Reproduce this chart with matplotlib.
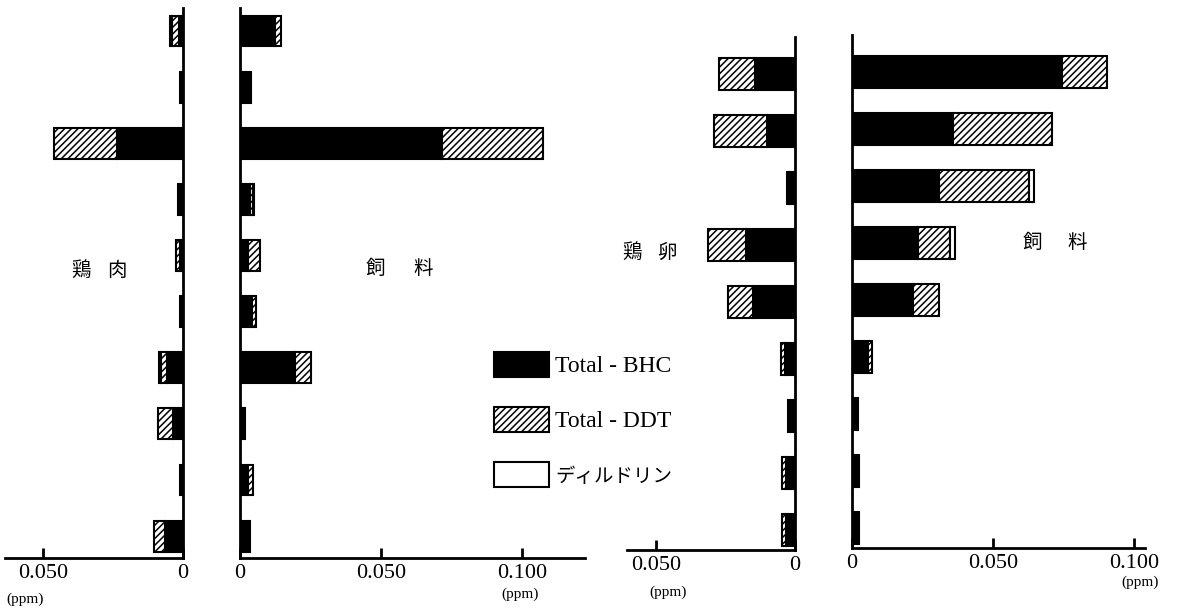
import matplotlib.pyplot as plt
from matplotlib.patches import Patch

plt.rcParams['font.family'] = ['Liberation Serif', 'Noto Sans CJK JP']
plt.rcParams['hatch.linewidth'] = 1.1

# 鶏肉 / 飼料 (10 samples), 鶏卵 / 飼料 (9 samples), ppm
meat_bhc = [0.0015, 0.0010, 0.0236, 0.0018, 0.0010, 0.0010, 0.0057, 0.0035, 0.0010, 0.0065]
meat_ddt = [0.0025, 0, 0.0224, 0, 0.0015, 0, 0.0022, 0.0055, 0, 0.0040]
meat_diel = [0.0005, 0, 0, 0, 0, 0, 0.0006, 0, 0, 0]

feed1_bhc = [0.0124, 0.0038, 0.0715, 0.0035, 0.0030, 0.0043, 0.0195, 0.0018, 0.0027, 0.0028]
feed1_ddt = [0.0022, 0, 0.0360, 0.0012, 0.0042, 0.0013, 0.0055, 0, 0.0018, 0.0008]
feed1_diel = [0, 0, 0, 0.0003, 0, 0, 0, 0, 0, 0]

egg_bhc = [0.0145, 0.0100, 0.0020, 0.0175, 0.0150, 0.0035, 0.0025, 0.0032, 0.0032]
egg_ddt = [0.0130, 0.0190, 0.0009, 0.0137, 0.0090, 0.0015, 0, 0.0015, 0.0015]
egg_diel = [0, 0, 0, 0, 0, 0, 0, 0, 0]

feed2_bhc = [0.0745, 0.0358, 0.0309, 0.0234, 0.0215, 0.0055, 0.0020, 0.0025, 0.0025]
feed2_ddt = [0.0160, 0.0350, 0.0320, 0.0112, 0.0095, 0.0015, 0, 0, 0]
feed2_diel = [0, 0, 0.0018, 0.0018, 0, 0, 0, 0, 0]

W, H = 1177, 608
fig = plt.figure(figsize=(W / 100, H / 100), dpi=100)


def stacked(ax, bhc, ddt, diel):
    n = len(bhc)
    for i in range(n):
        segs = [(0, bhc[i], 'black', None),
                (bhc[i], ddt[i], 'white', '/////'),
                (bhc[i] + ddt[i], diel[i], 'white', None)]
        for left, w, fc, hatch in segs:
            if w > 0:
                ax.barh(i, w, left=left, height=0.55, color=fc,
                        edgecolor='black', hatch=hatch, linewidth=1.5)


def panel(px, py, bhc, ddt, diel, xmax, flip, ticks, labels, ylim):
    x0, x1 = px
    y0, y1 = py
    ax = fig.add_axes([x0 / W, 1 - y1 / H, (x1 - x0) / W, (y1 - y0) / H])
    stacked(ax, bhc, ddt, diel)
    if flip:
        ax.set_xlim(xmax, 0)
        ax.spines['left'].set_visible(False)
    else:
        ax.set_xlim(0, xmax)
        ax.spines['right'].set_visible(False)
    ax.spines['top'].set_visible(False)
    for s in ax.spines.values():
        s.set_linewidth(2)
    ax.set_ylim(*ylim)
    ax.set_yticks([])
    ax.set_xticks(ticks)
    ax.set_xticklabels(labels)
    ax.tick_params(axis='x', direction='in', length=7, width=2, pad=4, labelsize=16)
    return ax


panel((5, 183), (8, 558), meat_bhc, meat_ddt, meat_diel, 0.0636, True,
      [0, 0.05], ['0', '0.050'], (9.39, -0.41))
panel((240, 585), (8, 558), feed1_bhc, feed1_ddt, feed1_diel, 0.1223, False,
      [0, 0.05, 0.1], ['0', '0.050', '0.100'], (9.39, -0.41))
panel((627, 795), (37, 550), egg_bhc, egg_ddt, egg_diel, 0.0604, True,
      [0, 0.05], ['0', '0.050'], (8.35, -0.65))
panel((852, 1145), (35, 548), feed2_bhc, feed2_ddt, feed2_diel, 0.1039, False,
      [0, 0.05, 0.1], ['0', '0.050', '0.100'], (8.35, -0.65))

# panel captions, one character at a time
captions = [('鶏', 81, 270), ('肉', 117, 270),
            ('飼', 375, 268), ('料', 423, 268),
            ('鶏', 632, 252), ('卵', 667, 252),
            ('飼', 1032, 242), ('料', 1077, 242)]
for ch, x, y in captions:
    fig.text(x / W, 1 - y / H, ch, family='Noto Sans CJK JP', fontsize=14,
             ha='center', va='center')

# units
for x, y in [(25, 599), (520, 594), (668, 592), (1140, 582)]:
    fig.text(x / W, 1 - y / H, '(ppm)', fontsize=11, ha='center', va='center')

handles = [Patch(facecolor='black', edgecolor='black', linewidth=1.5),
           Patch(facecolor='white', edgecolor='black', hatch='/////', linewidth=1.5),
           Patch(facecolor='white', edgecolor='black', linewidth=1.5)]
leg = fig.legend(handles, ['Total - BHC', 'Total - DDT', 'ディルドリン'],
                 loc='upper left', bbox_to_anchor=(494 / W, 1 - 352 / H),
                 frameon=False, fontsize=17, handlelength=2.35, handleheight=1.25,
                 labelspacing=1.25, handletextpad=0.25, borderpad=0, borderaxespad=0)
leg.get_texts()[2].set_fontsize(14)

fig.savefig('out.png', dpi=100)
